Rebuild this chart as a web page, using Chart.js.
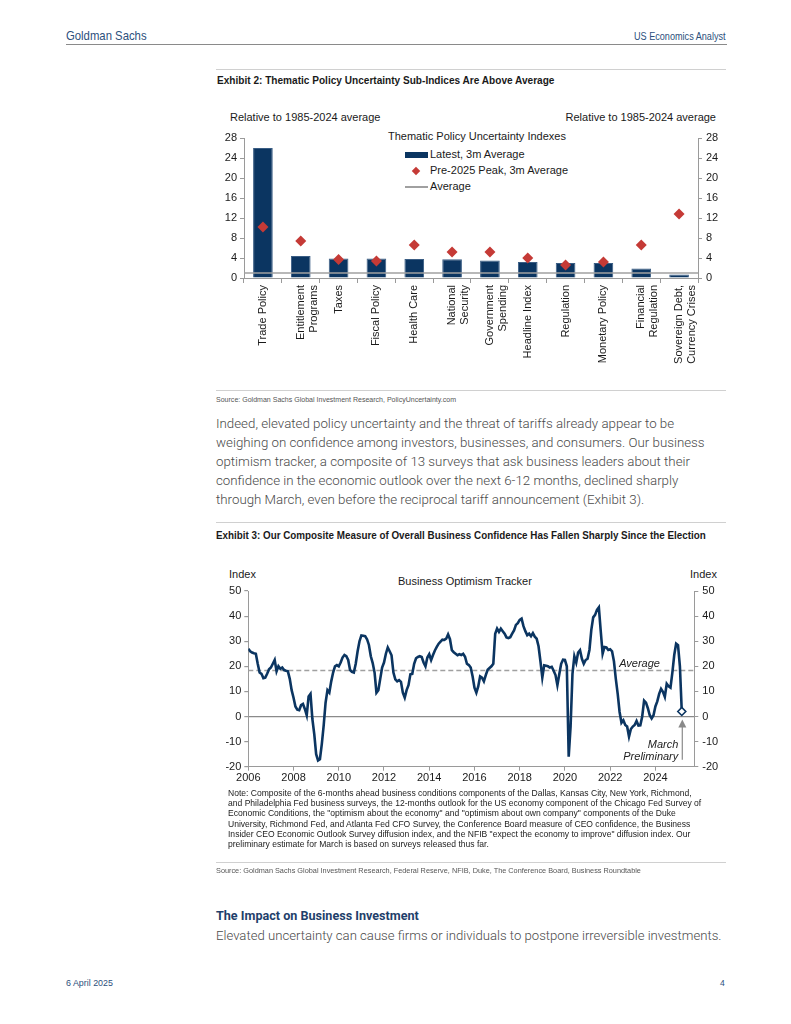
<!DOCTYPE html>
<html>
<head>
<meta charset="utf-8">
<script src="https://cdn.jsdelivr.net/npm/chart.js@4.4.1/dist/chart.umd.min.js"></script>
<style>
  body { margin: 0; background: #fff; }
  #page { position: relative; width: 791px; height: 1024px; overflow: hidden; font-family: "Liberation Sans", Arial, sans-serif; }
  .abs { position: absolute; white-space: nowrap; }
  .cond { font-family: "Liberation Sans", Arial, sans-serif; transform-origin: left center; }
  .cond.right { transform-origin: right center; }
  .rule { position: absolute; height: 0; border-top: 1px solid #d0d0d0; }
  .body { font-family: Roboto, "Liberation Sans", sans-serif; font-weight: 300; font-size: 13.3px; color: #4a4a4a; }
  .chartbox { position: absolute; }
  .lbl { font-size: 11px; color: #1a1a1a; }
  .note { font-size: 8.55px; color: #222; line-height: 10.2px; }
</style>
</head>
<body>
<div id="page">
  <div class="abs cond" data-w="81" style="left:66px; top:28px; font-size:13px; color:#2c4f7c;">Goldman Sachs</div>
  <div class="abs cond right" data-w="92" style="right:65px; top:31px; font-size:10px; color:#2c4f7c;">US Economics Analyst</div>
  <div class="rule" style="left:66px; width:661px; top:44px; border-top:1px solid #8a8a8a;"></div>

  <div class="rule" style="left:216px; width:510px; top:69px;"></div>
  <div class="abs cond" data-w="337" style="left:217px; top:74px; font-size:10.5px; font-weight:bold; color:#1a1a1a;">Exhibit 2: Thematic Policy Uncertainty Sub-Indices Are Above Average</div>

  <div class="abs lbl" style="left:230px; top:111px;">Relative to 1985-2024 average</div>
  <div class="abs lbl" style="right:75px; top:111px;">Relative to 1985-2024 average</div>
  <div class="abs lbl" style="left:388px; top:130px;">Thematic Policy Uncertainty Indexes</div>
  <div class="abs" style="left:405px; top:152px; width:23px; height:6px; background:#0b3561;"></div>
  <div class="abs lbl" style="left:430px; top:148px;">Latest, 3m Average</div>
  <div class="abs" style="left:413px; top:168px; width:6px; height:6px; background:#c53a36; transform:rotate(45deg);"></div>
  <div class="abs lbl" style="left:430px; top:164px;">Pre-2025 Peak, 3m Average</div>
  <div class="abs" style="left:405px; top:186px; width:23px; height:2px; background:#a0a0a0;"></div>
  <div class="abs lbl" style="left:430px; top:180px;">Average</div>

  <div class="chartbox" style="left:216px; top:100px; width:514px; height:290px;"><canvas id="policyChart"></canvas></div>

  <div class="rule" style="left:216px; width:510px; top:390px;"></div>
  <div class="abs cond" data-w="240" style="left:216px; top:395px; font-size:7.6px; color:#555;">Source: Goldman Sachs Global Investment Research, PolicyUncertainty.com</div>

  <div class="abs body" style="left:216px; top:416px;">Indeed, elevated policy uncertainty and the threat of tariffs already appear to be</div>
  <div class="abs body" style="left:216px; top:435px;">weighing on confidence among investors, businesses, and consumers. Our business</div>
  <div class="abs body" style="left:216px; top:454px;">optimism tracker, a composite of 13 surveys that ask business leaders about their</div>
  <div class="abs body" style="left:216px; top:473px;">confidence in the economic outlook over the next 6-12 months, declined sharply</div>
  <div class="abs body" style="left:216px; top:492px;">through March, even before the reciprocal tariff announcement (Exhibit 3).</div>

  <div class="rule" style="left:216px; width:510px; top:522px;"></div>
  <div class="abs cond" data-w="490" style="left:216px; top:529px; font-size:10.5px; font-weight:bold; color:#1a1a1a;">Exhibit 3: Our Composite Measure of Overall Business Confidence Has Fallen Sharply Since the Election</div>

  <div class="abs lbl" style="left:229px; top:568px;">Index</div>
  <div class="abs lbl" style="left:690px; top:568px;">Index</div>
  <div class="abs lbl" style="left:398px; top:575px;">Business Optimism Tracker</div>

  <div class="chartbox" style="left:216px; top:565px; width:514px; height:225px;"><canvas id="optimismChart"></canvas></div>

  <div class="abs note" style="left:228px; top:788px;">Note: Composite of the 6-months ahead business conditions components of the Dallas, Kansas City, New York, Richmond,<br>and Philadelphia Fed business surveys, the 12-months outlook for the US economy component of the Chicago Fed Survey of<br>Economic Conditions, the "optimism about the economy" and "optimism about own company" components of the Duke<br>University, Richmond Fed, and Atlanta Fed CFO Survey, the Conference Board measure of CEO confidence, the Business<br>Insider CEO Economic Outlook Survey diffusion index, and the NFIB "expect the economy to improve" diffusion index. Our<br>preliminary estimate for March is based on surveys released thus far.</div>

  <div class="rule" style="left:216px; width:510px; top:862px;"></div>
  <div class="abs cond" data-w="425" style="left:216px; top:866px; font-size:7.6px; color:#555;">Source: Goldman Sachs Global Investment Research, Federal Reserve, NFIB, Duke, The Conference Board, Business Roundtable</div>

  <div class="abs" style="left:216px; top:908px; font-family:Roboto, sans-serif; font-weight:bold; font-size:12.6px; color:#1f3f6b;">The Impact on Business Investment</div>
  <div class="abs body" style="left:216px; top:928px; font-size:13.15px;">Elevated uncertainty can cause firms or individuals to postpone irreversible investments.</div>

  <div class="abs cond" data-w="47" style="left:66px; top:978px; font-size:8.5px; color:#2c4f7c;">6 April 2025</div>
  <div class="abs cond" style="left:720px; top:978px; font-size:8.5px; color:#2c4f7c;">4</div>
</div>

<script>
// Exhibit 2 data
const policyCats = [
  ['Trade Policy'], ['Entitlement', 'Programs'], ['Taxes'], ['Fiscal Policy'], ['Health Care'],
  ['National', 'Security'], ['Government', 'Spending'], ['Headline Index'], ['Regulation'],
  ['Monetary Policy'], ['Financial', 'Regulation'], ['Sovereign Debt,', 'Currency Crises']
];
const latest3m = [26.0, 4.4, 3.9, 3.9, 3.8, 3.75, 3.5, 3.2, 3.0, 3.0, 1.9, 0.7];
const peak3m = [10.2, 7.4, 3.7, 3.4, 6.6, 5.2, 5.2, 4.0, 2.6, 3.2, 6.6, 12.8];
const policyAverage = 1;
const policyTicks = [0, 4, 8, 12, 16, 20, 24, 28];

// Exhibit 3 data, monthly from Jan 2006 to Mar 2025
const optimismStart = 2006;
const optimism = [
  27, 26, 25.5, 25.2, 25, 21, 17.5, 17, 15.3, 15.5, 17, 18.8,          // 2006
  19.5, 21, 22.5, 18, 20, 19, 19.5, 18.5, 18.2, 18, 15, 10.5,          // 2007
  7.5, 4, 2.7, 2.5, 4.5, 5, 3, 0.5, 8, 9, -1, -7,                      // 2008
  -15, -17.5, -17, -11, -3.5, 5.5, 10.5, 9.5, 14, 17.5, 20, 20.5,      // 2009
  20, 21.5, 23.5, 24.5, 24, 22.5, 18.5, 17.8, 17.5, 21, 26, 30,        // 2010
  32.3, 32.2, 32, 30.8, 28.5, 24, 21.3, 17.5, 9.5, 10.5, 15, 19.5,     // 2011
  21.5, 25, 27.5, 26, 24.4, 17.5, 14.8, 14, 14.5, 13.8, 9.5, 7.5,      // 2012
  10.5, 12.5, 16.8, 17, 21, 23.2, 23.7, 24, 23.7, 21.5, 20, 23.5,      // 2013
  24.8, 22.5, 24.5, 26.3, 27.7, 29, 29.8, 30.6, 30.5, 31, 32.7, 30.8,  // 2014
  26.4, 25.6, 25, 24.4, 24.8, 24.5, 25, 23.8, 21, 20.5, 19.5, 16,      // 2015
  11.5, 9.5, 12, 16, 15.5, 14, 16.5, 18.6, 19.3, 20, 21, 33,           // 2016
  35, 33.7, 35, 34, 33, 31.5, 31.2, 31.6, 33, 34.3, 36.5, 37.2,        // 2017
  38.5, 39, 36, 34, 32.4, 33, 32, 33.2, 31.8, 31, 28, 22,              // 2018
  15.5, 20.4, 20.2, 20, 19.5, 19.8, 18.2, 16.5, 12.5, 16.8, 21, 22.6,  // 2019
  22.5, 20, -16, -4, 17, 24, 21.5, 25.5, 26.4, 23, 21, 22.5,           // 2020
  23, 26.5, 34.5, 39.5, 40.5, 42.5, 43.5, 34, 25, 27.7, 27.5, 26.5,    // 2021
  26.8, 26, 22, 15, 9, 1.8, -2.5, -1.5, -3.4, -4, -8, -5,              // 2022
  -4, -3.4, -1.8, -3.6, -3.5, 0, 6.3, 5.5, 3.3, 0.5, -0.8, 0.5,        // 2023
  4, 6, 9, 11, 9.8, 7.8, 13, 12, 11.5, 17.5, 24.5, 29,                 // 2024
  28.4, 20, 2                                                          // 2025
];
const optimismAverage = 18.3;
const yearTicks = [2006, 2008, 2010, 2012, 2014, 2016, 2018, 2020, 2022, 2024];
const indexTicks = [-20, -10, 0, 10, 20, 30, 40, 50];

const axisGray = '#9a9a9a';
const navy = '#0b3561';
const tickFont = { family: 'Liberation Sans, Arial, sans-serif', size: 11 };

Chart.defaults.color = '#1a1a1a';
Chart.defaults.font = tickFont;

// squeeze the narrow headline texts to the widths of the original
function fitCondensed() {
  document.querySelectorAll('.cond[data-w]').forEach(el => {
    const w = el.offsetWidth;
    if (w > 0) el.style.transform = 'scaleX(' + (Number(el.dataset.w) / w) + ')';
  });
}

// horizontal average line for the bar chart
const policyAvgLine = {
  id: 'policyAvgLine',
  afterDatasetsDraw(chart) {
    const { ctx, chartArea } = chart;
    const y = chart.scales.y.getPixelForValue(policyAverage);
    ctx.save();
    ctx.strokeStyle = '#a0a0a0';
    ctx.lineWidth = 1.5;
    ctx.beginPath();
    ctx.moveTo(chartArea.left, y);
    ctx.lineTo(chartArea.right, y);
    ctx.stroke();
    ctx.restore();
  }
};

// dashed average + annotations for the line chart
const optimismNotes = {
  id: 'optimismNotes',
  beforeDatasetsDraw(chart) {
    const { ctx, chartArea } = chart;
    const xs = chart.scales.x;
    const y = chart.scales.y.getPixelForValue(optimismAverage);
    ctx.save();
    ctx.strokeStyle = '#a0a0a0';
    ctx.lineWidth = 1.5;
    ctx.setLineDash([5, 3]);
    ctx.beginPath();
    ctx.moveTo(chartArea.left, y);
    ctx.lineTo(chartArea.right, y);
    ctx.stroke();
    ctx.setLineDash([]);
    ctx.fillStyle = '#222';
    ctx.font = 'italic 11px Liberation Sans, Arial, sans-serif';
    ctx.textAlign = 'center';
    ctx.textBaseline = 'bottom';
    ctx.fillText('Average', xs.getPixelForValue(2023.3), y - 1);

    // arrow to the preliminary March point
    const last = optimism.length - 1;
    const ax = xs.getPixelForValue(optimismStart + last / 12) + 0.5;
    const ay = chart.scales.y.getPixelForValue(optimism[last]) + 8;
    ctx.strokeStyle = '#8a8a8a';
    ctx.fillStyle = '#8a8a8a';
    ctx.lineWidth = 1.2;
    ctx.beginPath();
    ctx.moveTo(ax, chartArea.bottom - 7);
    ctx.lineTo(ax, ay + 6);
    ctx.stroke();
    ctx.beginPath();
    ctx.moveTo(ax, ay);
    ctx.lineTo(ax - 4, ay + 8);
    ctx.lineTo(ax + 4, ay + 8);
    ctx.closePath();
    ctx.fill();
    ctx.fillStyle = '#222';
    ctx.textAlign = 'right';
    ctx.textBaseline = 'middle';
    ctx.fillText('March', ax - 4, chartArea.bottom - 22);
    ctx.fillText('Preliminary', ax - 4, chartArea.bottom - 10);
    ctx.restore();
  }
};

window.onload = () => {
  fitCondensed();

  new Chart(document.getElementById('policyChart'), {
    type: 'bar',
    data: {
      labels: policyCats,
      datasets: [{
        label: 'Pre-2025 Peak, 3m Average',
        type: 'line',
        data: peak3m,
        showLine: false,
        pointStyle: 'rectRot',
        pointRadius: 5.5,
        pointBackgroundColor: '#c53a36',
        pointBorderColor: '#c53a36',
        pointBorderWidth: 0,
        order: 0
      }, {
        label: 'Latest, 3m Average',
        data: latest3m,
        backgroundColor: navy,
        borderColor: '#3a5d84',
        borderWidth: 1,
        barPercentage: 0.52,
        categoryPercentage: 1,
        order: 1
      }]
    },
    options: {
      responsive: true,
      maintainAspectRatio: false,
      animation: false,
      layout: { padding: { top: 38, left: 0, right: 0, bottom: 0 } },
      plugins: { legend: { display: false }, tooltip: { enabled: false } },
      scales: {
        x: {
          grid: { drawOnChartArea: false, color: axisGray, tickLength: 5, offset: true },
          border: { color: axisGray },
          ticks: { minRotation: 90, maxRotation: 90, autoSkip: false, padding: 2 },
          afterFit(scale) { scale.height = 112; }
        },
        y: {
          position: 'left',
          min: 0, max: 28,
          afterBuildTicks(scale) { scale.ticks = policyTicks.map(v => ({ value: v })); },
          grid: { drawOnChartArea: false, color: axisGray, tickLength: 4 },
          border: { color: axisGray },
          ticks: { padding: 3 },
          afterFit(scale) { scale.width = 28; }
        },
        y2: {
          position: 'right',
          min: 0, max: 28,
          afterBuildTicks(scale) { scale.ticks = policyTicks.map(v => ({ value: v })); },
          grid: { drawOnChartArea: false, color: axisGray, tickLength: 4 },
          border: { color: axisGray },
          ticks: { padding: 4 },
          afterFit(scale) { scale.width = 32; }
        }
      }
    },
    plugins: [policyAvgLine]
  });

  const points = optimism.map((v, i) => ({ x: optimismStart + i / 12, y: v }));
  const lastIdx = optimism.length - 1;

  new Chart(document.getElementById('optimismChart'), {
    type: 'line',
    data: {
      datasets: [{
        label: 'Business Optimism Tracker',
        data: points,
        borderColor: navy,
        borderWidth: 2.6,
        tension: 0,
        pointStyle: 'rectRot',
        pointRadius: points.map((p, i) => i === lastIdx ? 4 : 0),
        pointBackgroundColor: '#ffffff',
        pointBorderColor: navy,
        pointBorderWidth: 1.6
      }]
    },
    options: {
      responsive: true,
      maintainAspectRatio: false,
      animation: false,
      layout: { padding: { top: 26, left: 0, right: 0, bottom: 0 } },
      plugins: { legend: { display: false }, tooltip: { enabled: false } },
      scales: {
        x: {
          type: 'linear',
          min: 2006, max: 2025.72,
          afterBuildTicks(scale) { scale.ticks = yearTicks.map(v => ({ value: v })); },
          grid: { drawOnChartArea: false, color: axisGray, tickLength: 4 },
          border: { color: axisGray },
          ticks: { padding: 1, maxRotation: 0, callback: v => String(v) },
          afterFit(scale) { scale.height = 23.3; }
        },
        y: {
          position: 'left',
          min: -20, max: 50,
          afterBuildTicks(scale) { scale.ticks = indexTicks.map(v => ({ value: v })); },
          grid: {
            color: c => c.tick && c.tick.value === 0 ? '#8a8a8a' : 'rgba(0,0,0,0)',
            lineWidth: 1.2,
            tickColor: axisGray,
            tickLength: 4
          },
          border: { color: axisGray },
          ticks: { padding: 3 },
          afterFit(scale) { scale.width = 32.3; }
        },
        y2: {
          position: 'right',
          min: -20, max: 50,
          afterBuildTicks(scale) { scale.ticks = indexTicks.map(v => ({ value: v })); },
          grid: { drawOnChartArea: false, color: axisGray, tickLength: 4 },
          border: { color: axisGray },
          ticks: { padding: 4 },
          afterFit(scale) { scale.width = 35.7; }
        }
      }
    },
    plugins: [optimismNotes]
  });
};
</script>
</body>
</html>
